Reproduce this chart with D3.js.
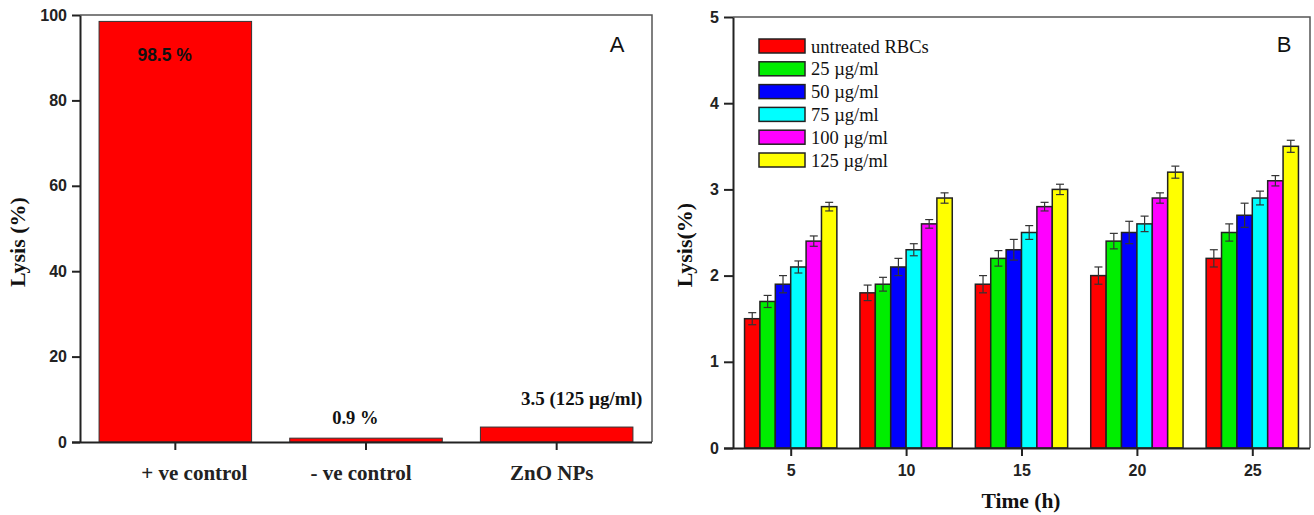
<!DOCTYPE html>
<html>
<head>
<meta charset="utf-8">
<script src="https://cdn.jsdelivr.net/npm/d3@7/dist/d3.min.js"></script>
<style>
  html, body { margin: 0; padding: 0; background: #fff; }
  svg { display: block; }
  .sans { font-family: "Liberation Sans", Arial, sans-serif; }
  .serif { font-family: "Liberation Serif", "Times New Roman", serif; }
</style>
</head>
<body>
<svg id="chart" width="1314" height="515"></svg>
<script>
// Panel A: haemolysis of controls vs ZnO nanoparticles
const controlCategories = ["+ ve control", "- ve control", "ZnO NPs"];
const controlLysis = [98.5, 0.9, 3.5];
const controlLabels = ["98.5 %", "0.9 %", "3.5 (125 \u00b5g/ml)"];
const controlTicks = [0, 20, 40, 60, 80, 100];

// Panel B: time course of haemolysis by concentration
const timePoints = [5, 10, 15, 20, 25];
const seriesNames = ["untreated RBCs", "25 \u00b5g/ml", "50 \u00b5g/ml", "75 \u00b5g/ml", "100 \u00b5g/ml", "125 \u00b5g/ml"];
const seriesColors = ["#ff0000", "#00ee00", "#0000ff", "#00ffff", "#ff00ff", "#ffff00"];
const untreatedRBCs = [1.5, 1.8, 1.9, 2.0, 2.2];
const conc25 = [1.7, 1.9, 2.2, 2.4, 2.5];
const conc50 = [1.9, 2.1, 2.3, 2.5, 2.7];
const conc75 = [2.1, 2.3, 2.5, 2.6, 2.9];
const conc100 = [2.4, 2.6, 2.8, 2.9, 3.1];
const conc125 = [2.8, 2.9, 3.0, 3.2, 3.5];
const untreatedErr = [0.07, 0.09, 0.1, 0.1, 0.1];
const conc25Err = [0.07, 0.08, 0.09, 0.09, 0.1];
const conc50Err = [0.1, 0.1, 0.12, 0.13, 0.14];
const conc75Err = [0.07, 0.07, 0.08, 0.09, 0.08];
const conc100Err = [0.06, 0.05, 0.05, 0.06, 0.06];
const conc125Err = [0.05, 0.06, 0.06, 0.07, 0.07];
const timeTicks = [5, 10, 15, 20, 25];
const lysisTicks = [0, 1, 2, 3, 4, 5];

const seriesValues = [untreatedRBCs, conc25, conc50, conc75, conc100, conc125];
const seriesErrors = [untreatedErr, conc25Err, conc50Err, conc75Err, conc100Err, conc125Err];

const svg = d3.select("#chart");
const axisColor = "#222";
const frameColor = "#555";

function styleAxis(g) {
  g.select(".domain").attr("stroke", axisColor).attr("stroke-width", 2);
  g.selectAll(".tick line").attr("stroke", axisColor).attr("stroke-width", 2);
  g.selectAll(".tick text")
    .attr("class", "sans")
    .attr("fill", "#222")
    .style("font-weight", "bold")
    .style("font-size", "16px");
}

// ---------- Panel A ----------
{
  const left = 80, right = 652, top = 15, bottom = 442;
  const x = d3.scaleBand().domain(controlCategories).range([left, right])
    .paddingInner(0.2).paddingOuter(0.1);
  const y = d3.scaleLinear().domain([0, 100]).range([bottom, top]);

  const g = svg.append("g");

  // frame top/right
  g.append("path")
    .attr("d", `M${left},${top}H${right}V${bottom}`)
    .attr("fill", "none").attr("stroke", frameColor).attr("stroke-width", 1.5);

  g.selectAll("rect.bar").data(controlLysis).join("rect")
    .attr("class", "bar")
    .attr("x", (d, i) => x(controlCategories[i]))
    .attr("width", x.bandwidth())
    .attr("y", d => y(d))
    .attr("height", d => y(0) - y(d))
    .attr("fill", "#ff0000")
    .attr("stroke", "#333").attr("stroke-width", 1);

  const yAxis = g.append("g").attr("transform", `translate(${left},0)`)
    .call(d3.axisLeft(y).tickValues(controlTicks).tickSize(8).tickPadding(5).tickSizeOuter(0));
  styleAxis(yAxis);

  const xAxis = g.append("g").attr("transform", `translate(0,${bottom})`)
    .call(d3.axisBottom(x).tickSize(8).tickPadding(15).tickSizeOuter(0));
  styleAxis(xAxis);
  xAxis.select(".domain").attr("d", `M${left - 8},0.5H${right}`);
  xAxis.selectAll(".tick text")
    .attr("class", "serif")
    .style("font-size", "21px")
    .attr("dx", (d, i) => [19, -5, -5][i]);

  // value labels
  g.append("text").attr("class", "sans")
    .attr("x", x(controlCategories[0]) + x.bandwidth() * 0.43)
    .attr("y", y(controlLysis[0]) + 40)
    .attr("text-anchor", "middle")
    .style("font-weight", "bold").style("font-size", "17.5px").attr("fill", "#111")
    .text(controlLabels[0]);
  g.append("text").attr("class", "serif")
    .attr("x", x(controlCategories[1]) + x.bandwidth() * 0.43)
    .attr("y", y(controlLysis[1]) - 14)
    .attr("text-anchor", "middle")
    .style("font-weight", "bold").style("font-size", "18.5px").attr("fill", "#111")
    .text(controlLabels[1]);
  g.append("text").attr("class", "serif")
    .attr("x", x(controlCategories[2]) + x.bandwidth() * 0.664)
    .attr("y", y(controlLysis[2]) - 22)
    .attr("text-anchor", "middle")
    .style("font-weight", "bold").style("font-size", "19px").attr("fill", "#111")
    .text(controlLabels[2]);

  g.append("text").attr("class", "serif")
    .attr("transform", `translate(25,242) rotate(-90)`)
    .attr("text-anchor", "middle")
    .style("font-weight", "bold").style("font-size", "22px").attr("fill", "#111")
    .text("Lysis (%)");

  g.append("text").attr("class", "sans")
    .attr("x", 617).attr("y", 52)
    .attr("text-anchor", "middle")
    .style("font-size", "22px").attr("fill", "#111")
    .text("A");
}

// ---------- Panel B ----------
{
  const left = 733, right = 1310, top = 17, bottom = 448;
  const x = d3.scaleLinear().domain([2.5, 27.5]).range([left, right]);
  const y = d3.scaleLinear().domain([0, 5]).range([bottom, top]);
  const groupWidth = 4; // hours spanned by the six bars of a time point
  const sub = d3.scaleBand().domain(d3.range(seriesNames.length))
    .range([-groupWidth / 2, groupWidth / 2]).padding(0);

  const g = svg.append("g");

  g.append("path")
    .attr("d", `M${left},${top}H${right}V${bottom}`)
    .attr("fill", "none").attr("stroke", frameColor).attr("stroke-width", 1.5);

  const series = g.selectAll("g.series").data(seriesValues).join("g")
    .attr("class", "series");

  series.each(function (vals, si) {
    const s = d3.select(this);
    const errs = seriesErrors[si];
    s.selectAll("rect").data(vals).join("rect")
      .attr("x", (d, i) => x(timePoints[i] + sub(si)))
      .attr("width", (d, i) => x(timePoints[i] + sub(si) + sub.bandwidth()) - x(timePoints[i] + sub(si)))
      .attr("y", d => y(d))
      .attr("height", d => y(0) - y(d))
      .attr("fill", seriesColors[si])
      .attr("stroke", "#222").attr("stroke-width", 1.5);

    const eb = s.selectAll("g.err").data(vals).join("g").attr("class", "err");
    eb.each(function (d, i) {
      const cx = x(timePoints[i] + sub(si) + sub.bandwidth() / 2);
      const e = errs[i];
      const gg = d3.select(this);
      gg.append("line").attr("x1", cx).attr("x2", cx)
        .attr("y1", y(d - e)).attr("y2", y(d + e));
      gg.append("line").attr("x1", cx - 4).attr("x2", cx + 4)
        .attr("y1", y(d + e)).attr("y2", y(d + e));
      gg.append("line").attr("x1", cx - 4).attr("x2", cx + 4)
        .attr("y1", y(d - e)).attr("y2", y(d - e));
      gg.selectAll("line").attr("stroke", "#333").attr("stroke-width", 1.2);
    });
  });

  const yAxis = g.append("g").attr("transform", `translate(${left},0)`)
    .call(d3.axisLeft(y).tickValues(lysisTicks).tickFormat(d3.format("d")).tickSize(9).tickPadding(5).tickSizeOuter(0));
  styleAxis(yAxis);

  const xAxis = g.append("g").attr("transform", `translate(0,${bottom})`)
    .call(d3.axisBottom(x).tickValues(timeTicks).tickFormat(d3.format("d")).tickSize(8).tickPadding(9).tickSizeOuter(0));
  styleAxis(xAxis);
  xAxis.select(".domain").attr("d", `M${left - 9},0.5H${right}`);

  g.append("text").attr("class", "serif")
    .attr("transform", `translate(692,245) rotate(-90)`)
    .attr("text-anchor", "middle")
    .style("font-weight", "bold").style("font-size", "22px").attr("fill", "#111")
    .text("Lysis(%)");

  g.append("text").attr("class", "serif")
    .attr("x", 1021).attr("y", 508)
    .attr("text-anchor", "middle")
    .style("font-weight", "bold").style("font-size", "21.5px").attr("fill", "#111")
    .text("Time (h)");

  g.append("text").attr("class", "sans")
    .attr("x", 1284).attr("y", 52)
    .attr("text-anchor", "middle")
    .style("font-size", "22px").attr("fill", "#111")
    .text("B");

  // legend
  const legend = g.append("g").attr("transform", "translate(759,39)");
  const items = legend.selectAll("g").data(seriesNames).join("g")
    .attr("transform", (d, i) => `translate(0,${i * 22.8})`);
  items.append("rect")
    .attr("width", 46).attr("height", 14)
    .attr("fill", (d, i) => seriesColors[i])
    .attr("stroke", "#222").attr("stroke-width", 1.5);
  items.append("text").attr("class", "serif")
    .attr("x", 52).attr("y", 13.5)
    .style("font-size", "18.5px").attr("fill", "#111")
    .text(d => d);
}
</script>
</body>
</html>
